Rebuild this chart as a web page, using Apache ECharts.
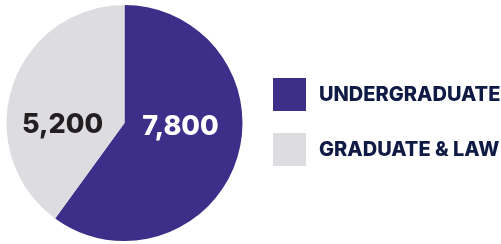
<!DOCTYPE html>
<html>
<head>
<meta charset="utf-8">
<script src="https://cdn.jsdelivr.net/npm/echarts@6/dist/echarts.min.js"></script>
<style>
  html, body { margin: 0; padding: 0; background: #fff; }
  #chart { width: 501px; height: 244px; }
</style>
</head>
<body>
<div id="chart"></div>
<script>
// enrollment split
const categories = ['UNDERGRADUATE', 'GRADUATE & LAW']
const values = [7800, 5200]
const colors = ['#3d2e8a', '#dcdce1']
const labelColors = ['#ffffff', '#231f20']
// nudge so both numbers sit on the centre line
const labelNudgeX = [-3, -3]
const labelNudgeY = [-15, 21]

const chart = echarts.init(document.getElementById('chart'))

const option = {
  animation: false,
  color: colors,
  legend: {
    orient: 'vertical',
    left: 273,
    top: 78,
    padding: 0,
    itemWidth: 33,
    itemHeight: 33,
    itemGap: 22,
    icon: 'rect',
    textStyle: {
      fontFamily: 'Inter',
      fontWeight: 800,
      fontSize: 20,
      color: '#0f1a45',
      padding: [0, 0, 0, 8]
    },
    data: categories
  },
  series: [
    {
      type: 'pie',
      center: [124.5, 123],
      radius: [0, 118],
      startAngle: 90,
      clockwise: true,
      silent: true,
      label: {
        show: true,
        position: 'inside',
        fontFamily: 'Inter',
        fontWeight: 800,
        fontSize: 27,
        formatter: p => p.value.toLocaleString('en-US')
      },
      labelLine: { show: false },
      labelLayout: p => ({ dx: labelNudgeX[p.dataIndex], dy: labelNudgeY[p.dataIndex] }),
      data: categories.map((name, i) => ({
        name,
        value: values[i],
        label: { color: labelColors[i] }
      }))
    }
  ]
}

chart.setOption(option)
</script>
</body>
</html>
